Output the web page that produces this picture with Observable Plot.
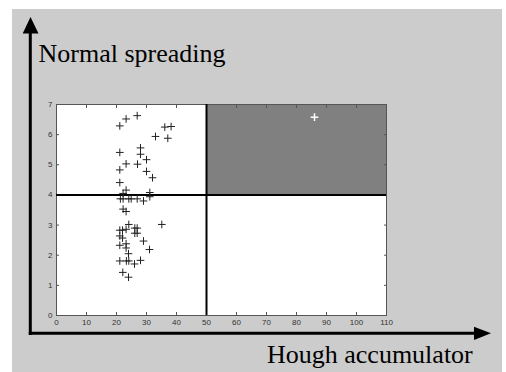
<!DOCTYPE html>
<html>
<head>
<meta charset="utf-8">
<script src="https://cdn.jsdelivr.net/npm/d3@7"></script>
<script src="https://cdn.jsdelivr.net/npm/@observablehq/plot@0.6"></script>
<style>
  html, body { margin: 0; padding: 0; background: #ffffff; }
  #wrap { position: relative; width: 506px; height: 372px; overflow: hidden; }
  #bg { position: absolute; left: 12px; top: 9px; width: 490px; height: 363px; background: #cccccc; }
  #chart { position: absolute; left: 0; top: 0; }
  #deco { position: absolute; left: 0; top: 0; pointer-events: none; }
</style>
</head>
<body>
<div id="wrap">
  <div id="bg"></div>
  <div id="chart"></div>
  <svg id="deco" width="506" height="372" xmlns="http://www.w3.org/2000/svg">
    <line x1="30.3" y1="335" x2="30.3" y2="31" stroke="#000" stroke-width="3"/>
    <polygon points="30.5,17 22.7,33.5 38.5,33.5" fill="#000"/>
    <line x1="28.8" y1="333.3" x2="476" y2="333.3" stroke="#000" stroke-width="3"/>
    <polygon points="491,333.3 474,326.8 474,340" fill="#000"/>
    <text x="38.5" y="62" font-family="Liberation Serif, Times New Roman, serif" font-size="26" fill="#000">Normal spreading</text>
    <text x="267" y="363" font-family="Liberation Serif, Times New Roman, serif" font-size="26" fill="#000">Hough accumulator</text>
  </svg>
</div>
<script>
// Hough accumulator (x) values of the detected candidates
const houghAcc = [
  26.9, 23.2, 21.1, 36.1, 38.2, 33.0, 37.1, 28.0, 28.0, 21.1,
  30.0, 23.2, 27.0, 21.1, 30.0, 32.0, 21.1, 23.2, 22.2, 31.1,
  31.1, 21.3, 22.2, 24.1, 24.9, 26.9, 29.0, 22.2, 23.2,
  24.1, 35.1, 26.1, 26.9, 21.1, 22.0, 23.2, 26.1, 26.9, 21.1,
  22.0, 29.0, 23.2, 21.1, 23.2, 31.0, 24.0, 21.1, 23.3, 24.1,
  28.0, 26.0, 22.1, 24.0
];
// Normal spreading (y) values of the same candidates
const normalSpread = [
  6.63, 6.52, 6.29, 6.25, 6.27, 5.94, 5.88, 5.56, 5.35, 5.41,
  5.17, 5.03, 5.02, 4.83, 4.78, 4.57, 4.41, 4.16, 4.05, 4.08,
  3.94, 3.87, 3.87, 3.87, 3.87, 3.87, 3.80, 3.53, 3.45,
  3.02, 3.02, 2.90, 2.90, 2.83, 2.83, 2.86, 2.73, 2.73, 2.64,
  2.57, 2.47, 2.38, 2.33, 2.24, 2.19, 2.05, 1.81, 1.81, 1.81,
  1.83, 1.71, 1.43, 1.27
];
// The selected candidate (white cross in the shaded region)
const selectedX = [86];
const selectedY = [6.58];

// Thresholds
const thresholdX = [50];
const thresholdY = [4];

// Axis domains and ticks
const xDomain = [0, 110];
const yDomain = [0, 7];
const xTicks = [0, 10, 20, 30, 40, 50, 60, 70, 80, 90, 100, 110];
const yTicks = [0, 1, 2, 3, 4, 5, 6, 7];

const points = houghAcc.map((x, i) => ({x, y: normalSpread[i]}));
const selected = selectedX.map((x, i) => ({x, y: selectedY[i]}));
const region = [{x1: thresholdX[0], x2: xDomain[1], y1: thresholdY[0], y2: yDomain[1]}];

const blank = () => "";

const chart = Plot.plot({
  width: 506,
  height: 372,
  marginLeft: 56,
  marginRight: 120,
  marginTop: 104,
  marginBottom: 57,
  style: {background: "transparent", fontFamily: "Liberation Sans, Arial, sans-serif", fontSize: "8px", color: "#333"},
  x: {domain: xDomain, ticks: xTicks},
  y: {domain: yDomain, ticks: yTicks},
  marks: [
    Plot.frame({fill: "white", stroke: null}),
    Plot.rect(region, {x1: "x1", x2: "x2", y1: "y1", y2: "y2", fill: "#808080"}),
    Plot.axisX(xTicks, {anchor: "bottom", tickSize: 3, dy: -3, tickFormat: blank, label: null, stroke: "#555"}),
    Plot.axisX(xTicks, {anchor: "top", tickSize: 3, dy: 3, tickFormat: blank, label: null, stroke: "#555"}),
    Plot.axisY(yTicks, {anchor: "left", tickSize: 3, dx: 3, tickFormat: blank, label: null, stroke: "#555"}),
    Plot.axisY(yTicks, {anchor: "right", tickSize: 3, dx: -3, tickFormat: blank, label: null, stroke: "#555"}),
    Plot.axisX(xTicks, {anchor: "bottom", tickSize: 0, tickPadding: 4, label: null, fill: "#333"}),
    Plot.axisY(yTicks, {anchor: "left", tickSize: 0, tickPadding: 4, label: null, fill: "#333"}),
    Plot.frame({stroke: "#555", strokeWidth: 1}),
    Plot.ruleX(thresholdX, {y1: yDomain[0], y2: yDomain[1], stroke: "#000", strokeWidth: 2}),
    Plot.ruleY(thresholdY, {x1: xDomain[0], x2: xDomain[1], stroke: "#000", strokeWidth: 2}),
    Plot.dot(points, {x: "x", y: "y", symbol: "plus", r: 2.6, stroke: "#222", strokeWidth: 1}),
    Plot.dot(selected, {x: "x", y: "y", symbol: "plus", r: 2.6, stroke: "#fff", strokeWidth: 1.5})
  ]
});
document.getElementById("chart").appendChild(chart);
</script>
</body>
</html>
